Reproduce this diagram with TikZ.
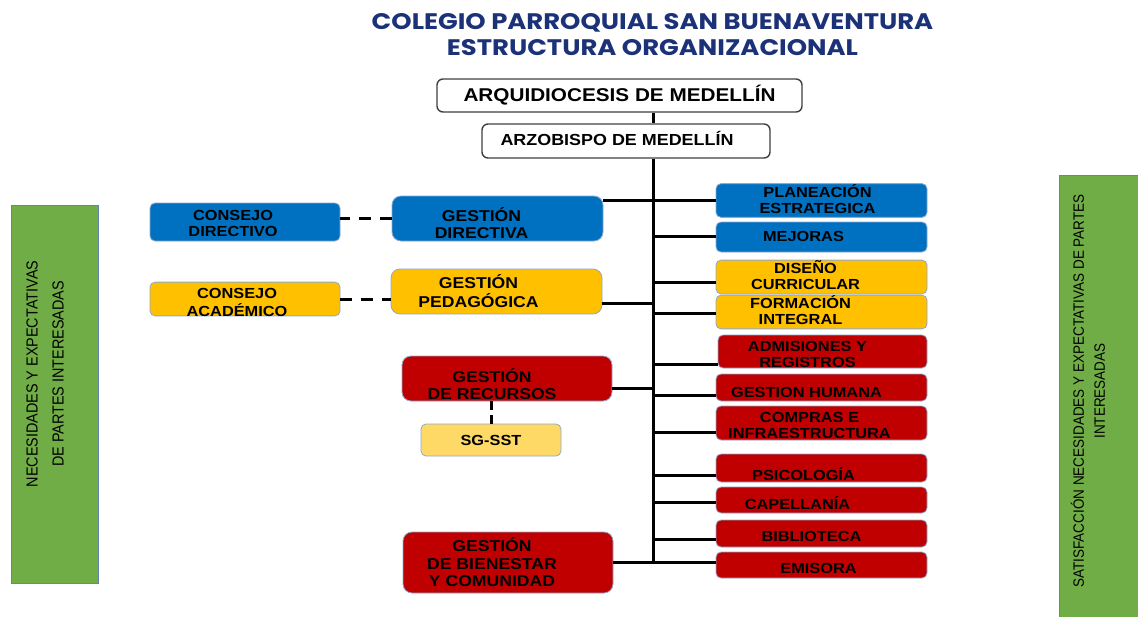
\documentclass[tikz,border=0pt]{standalone}
\usepackage{fontspec}
\setmainfont{Liberation Sans}
\newfontfamily\cajafont[FakeStretch=1.12]{Liberation Sans}
\newfontfamily\verdefont[FakeStretch=0.9]{Liberation Sans}
\newfontfamily\titulofont[FakeStretch=1.15]{Poppins}
\usetikzlibrary{calc}
\definecolor{azul}{RGB}{0,112,192}
\definecolor{ambar}{RGB}{255,192,0}
\definecolor{rojo}{RGB}{192,0,0}
\definecolor{amarillo}{RGB}{255,217,102}
\definecolor{verde}{RGB}{112,173,71}
\definecolor{borde}{RGB}{143,168,205}
\definecolor{bordeverde}{RGB}{100,130,180}
\definecolor{titulo}{RGB}{28,50,120}
\NewDocumentCommand{\izq}{O{32pt} O{5pt} m}{\raisebox{-#2}[\height][\depth]{\begin{tabular}{@{}c@{}}#3\end{tabular}}\hspace*{#1}}

\begin{document}
\begin{tikzpicture}[x=1pt,y=-1pt,
		marco/.style={draw=black!75, line width=1.4pt, fill=white, rounded corners=6pt, inner sep=0pt, font=\cajafont\bfseries},
		caja/.style={draw=borde, line width=0.8pt, rounded corners=5pt, inner sep=0pt, align=center, font=\cajafont\bfseries\fontsize{14.6}{16}\selectfont},
		gestion/.style={caja, rounded corners=9pt, minimum width=211pt, minimum height=45pt, font=\cajafont\bfseries\fontsize{15.7}{17.5}\selectfont},
		proceso/.style={caja, minimum width=211pt},
		area/.style={draw=bordeverde, line width=0.8pt, fill=verde},
		lateral/.style={rotate=90, align=center, font=\verdefont},
		enlace/.style={line width=3pt},
		guion/.style={line width=3pt, dash pattern=on 12pt off 9pt}]
	\useasboundingbox (0,0) rectangle (1138,616);
	
	\node[area, minimum width=87pt, minimum height=378pt] (nec) at (54.5,394) {};
	\node[lateral, font=\verdefont\fontsize{16}{26}\selectfont] (necT) at (45,374) {NECESIDADES Y EXPECTATIVAS\\DE PARTES INTERESADAS};
	\node[area, minimum width=87pt, minimum height=450pt] (sat) at (1102.5,400) {};
	\node[lateral, font=\verdefont\fontsize{15}{21}\selectfont] (satT) at (1088,391) {SATISFACCIÓN NECESIDADES Y EXPECTATIVAS DE PARTES\\INTERESADAS};
	
	\node[align=center, text=titulo, font=\titulofont\bfseries\fontsize{22.5}{26}\selectfont] (tit) at (652.5,35) {COLEGIO PARROQUIAL SAN BUENAVENTURA\\ESTRUCTURA ORGANIZACIONAL};
	
	\node[marco, minimum width=365pt, minimum height=33pt, font=\cajafont\bfseries\fontsize{18.5}{20}\selectfont] (arq) at (619.5,95.5) {ARQUIDIOCESIS DE MEDELLÍN};
	\node[marco, minimum width=288pt, minimum height=34pt, font=\cajafont\bfseries\fontsize{16}{18}\selectfont] (arz) at (626,141) {\izq[18pt][0pt]{ARZOBISPO DE MEDELLÍN}};
	
	\node[caja, fill=azul, minimum width=190pt, minimum height=38pt] (cd) at (245,222) {\izq[24pt][3pt]{CONSEJO\\DIRECTIVO}};
	\node[caja, fill=ambar, minimum width=190pt, minimum height=32pt] (ca) at (245,299) {\izq[16pt]{CONSEJO\\ACADÉMICO}};
	
	\node[gestion, fill=azul] (gd) at (497.5,218.5) {\izq[32pt][7pt]{GESTIÓN\\DIRECTIVA}};
	\node[gestion, fill=ambar] (gp) at (496.5,291.5) {\izq[36pt][2pt]{GESTIÓN\\PEDAGÓGICA}};
	\node[gestion, fill=rojo, minimum width=210pt] (gr) at (507,378.5) {\izq[30pt][8pt]{GESTIÓN\\DE RECURSOS}};
	\node[caja, fill=amarillo, minimum width=140pt, minimum height=32pt] (sg) at (491,440) {SG-SST};
	\node[gestion, fill=rojo, minimum width=210pt, minimum height=61pt] (gb) at (508,562.5) {\izq[32pt][2.5pt]{GESTIÓN\\DE BIENESTAR\\Y COMUNIDAD}};
	
	\node[proceso, fill=azul, minimum height=31pt] (pe) at (821.5,200.5) {\izq[8pt][1pt]{PLANEACIÓN\\ESTRATEGICA}};
	\node[proceso, fill=azul, minimum height=30pt] (mej) at (821.5,237) {\izq[36pt][1pt]{MEJORAS}};
	\node[proceso, fill=ambar, minimum height=30pt] (dis) at (821.5,277) {\izq[32pt][0pt]{DISEÑO\\CURRICULAR}};
	\node[proceso, fill=ambar, minimum height=32pt] (for) at (821.5,312) {\izq[42pt][0pt]{FORMACIÓN\\INTEGRAL}};
	\node[proceso, fill=rojo, minimum width=209pt, minimum height=33pt] (adm) at (822.5,351.5) {\izq[30pt][4.5pt]{ADMISIONES Y\\REGISTROS}};
	\node[proceso, fill=rojo, minimum height=27pt] (gh) at (821.5,387.5) {\izq[30pt][7pt]{GESTION HUMANA}};
	\node[proceso, fill=rojo, minimum height=34pt] (com) at (821.5,423) {\izq[24pt][4.5pt]{COMPRAS E\\INFRAESTRUCTURA}};
	\node[proceso, fill=rojo, minimum height=28pt] (psi) at (821.5,468) {\izq[36pt][8pt]{PSICOLOGÍA}};
	\node[proceso, fill=rojo, minimum height=26pt] (cap) at (821.5,500) {\izq[48pt]{CAPELLANÍA}};
	\node[proceso, fill=rojo, minimum height=27pt] (bib) at (821.5,533.5) {\izq[20pt]{BIBLIOTECA}};
	\node[proceso, fill=rojo, minimum height=26pt] (emi) at (821.5,565) {\izq[6pt]{EMISORA}};
	
	\coordinate (t0) at (653,158);
	\coordinate (t1) at (653,563);
	
	\draw[enlace] (arq.south -| t0) -- (arz.north -| t0);
	\draw[enlace] (arz.south -| t0) -- (t1);
	\draw[enlace] (pe.west) -- (pe.west -| gd.east);
	\foreach \n/\d in {mej/-1,dis/5,for/1,adm/12.5,gh/7.5,com/9,psi/7,cap/2,bib/5.5}
		\draw[enlace] ($(\n.west)+(0,\d)$) -- ($(\n.west -| t0)+(0,\d)$);
	\draw[enlace] ($(gp.east)+(0,11.5)$) -- ($(gp.east -| t0)+(0,11.5)$);
	\draw[enlace] ($(gr.east)+(0,9.5)$) -- ($(gr.east -| t0)+(0,9.5)$);
	\draw[enlace] (gb.east) -- (gb.east -| emi.west);
	
	\draw[guion] (gd.west) -- (gd.west -| cd.east);
	\draw[guion] (ca.east) -- (ca.east -| gp.west);
	\draw[guion, dash pattern=on 9pt off 5pt] (sg.north) -- (sg.north |- gr.south);
\end{tikzpicture}
\end{document}
